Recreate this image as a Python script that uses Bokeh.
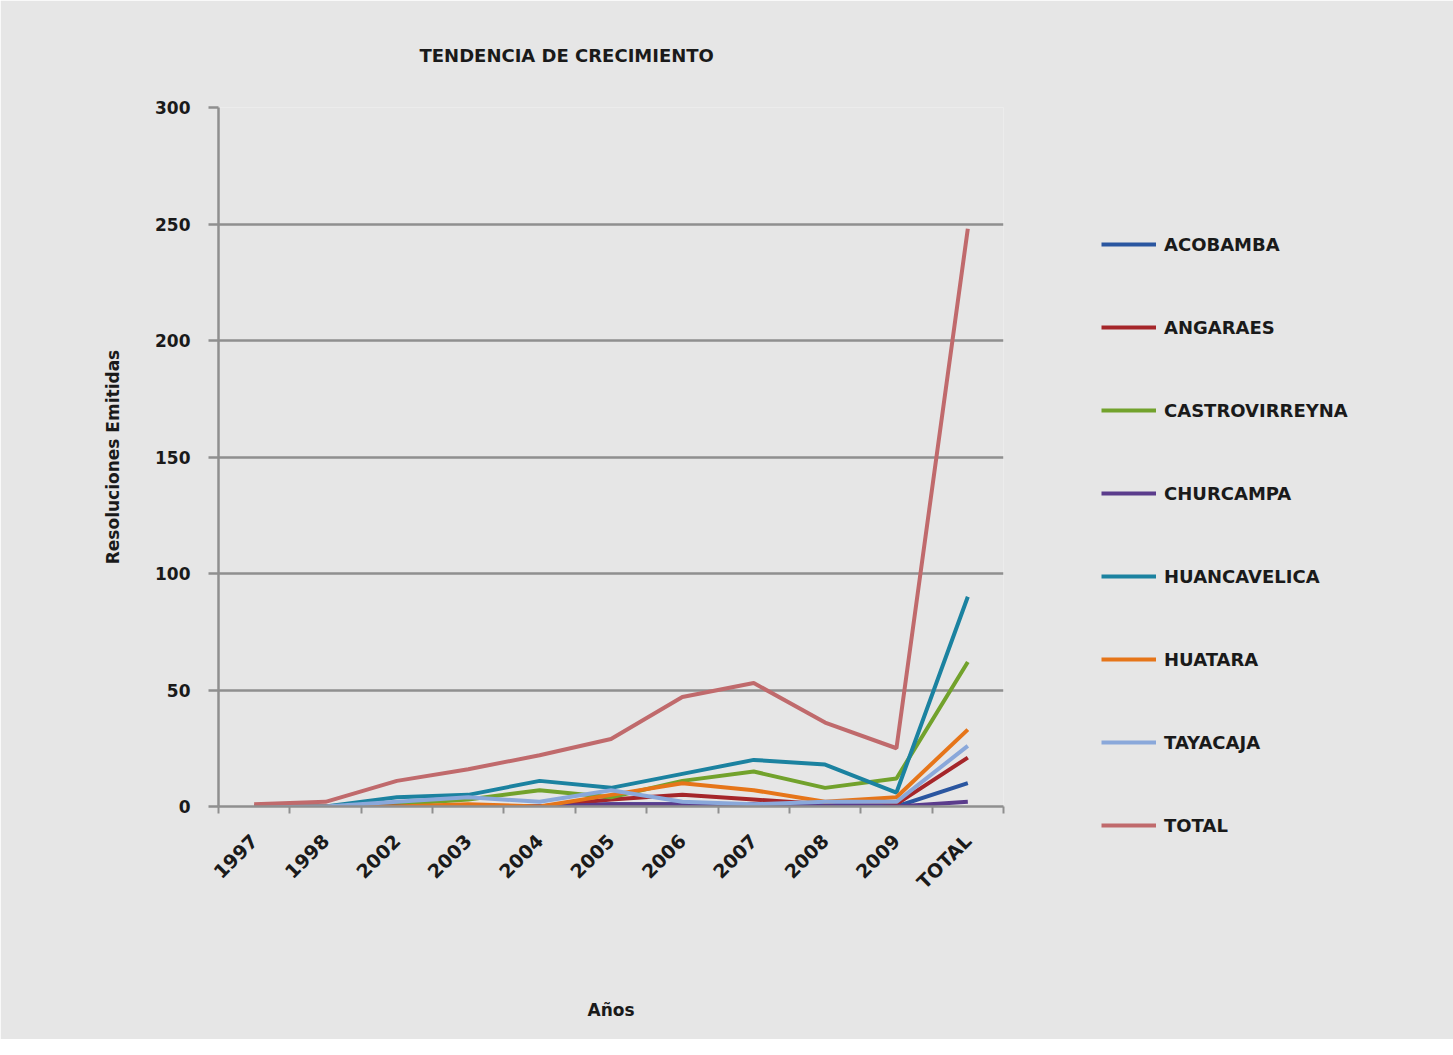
from bokeh.plotting import figure
from bokeh.models import Range1d, FixedTicker, Legend, LegendItem
from bokeh.embed import file_html
from bokeh.resources import INLINE
from math import pi

categories = ["1997", "1998", "2002", "2003", "2004", "2005", "2006", "2007", "2008", "2009", "TOTAL"]

acobamba = [0, 0, 0, 0, 0, 1, 1, 1, 1, 0, 10]
angaraes = [0, 0, 0, 0, 0, 3, 5, 3, 1, 1, 21]
castrovirreyna = [0, 0, 1, 3, 7, 4, 11, 15, 8, 12, 62]
churcampa = [0, 0, 0, 0, 0, 1, 1, 1, 1, 0, 2]
huancavelica = [0, 0, 4, 5, 11, 8, 14, 20, 18, 6, 90]
huatara = [0, 0, 0, 1, 0, 5, 10, 7, 2, 4, 33]
tayacaja = [0, 0, 2, 4, 2, 7, 2, 1, 2, 2, 26]
total = [1, 2, 11, 16, 22, 29, 47, 53, 36, 25, 248]

series_names = ["ACOBAMBA", "ANGARAES", "CASTROVIRREYNA", "CHURCAMPA",
                "HUANCAVELICA", "HUATARA", "TAYACAJA", "TOTAL"]
series_values = [acobamba, angaraes, castrovirreyna, churcampa,
                 huancavelica, huatara, tayacaja, total]
series_colors = ["#2a56a0", "#a5262a", "#72a22c", "#5b3c8c",
                 "#1b82a0", "#e67519", "#8aa8da", "#c06a6c"]

y_ticks = [0, 50, 100, 150, 200, 250, 300]

BG = "#e6e6e6"
GRID = "#8f8f8f"
FONT = "DejaVu Sans"

p = figure(frame_width=785, frame_height=699, output_backend="svg", toolbar_location=None,
           x_range=Range1d(0, len(categories)), y_range=Range1d(0, 300),
           min_border_left=218, min_border_right=0, min_border_top=107, min_border_bottom=233)

p.background_fill_color = BG
p.border_fill_color = BG
p.outline_line_color = None

p.title.text = "TENDENCIA DE CRECIMIENTO"
p.title.align = "left"
p.title.offset = 201
p.title.standoff = 84
p.title.text_font = FONT
p.title.text_font_style = "bold"
p.title.text_font_size = "18px"
p.title.text_color = "#1a1a1a"

xs = [i + 0.5 for i in range(len(categories))]

items = []
for name, vals, col in zip(series_names, series_values, series_colors):
    r = p.line(xs, vals, line_color=col, line_width=4)
    items.append(LegendItem(label=name, renderers=[r]))

# x axis: categories centred between tick marks
xaxis = p.below[0]
xaxis.ticker = FixedTicker(ticks=xs, minor_ticks=list(range(len(categories) + 1)))
xaxis.major_label_overrides = {x: c for x, c in zip(xs, categories)}
xaxis.major_tick_line_color = None
xaxis.minor_tick_line_color = GRID
xaxis.minor_tick_line_width = 2
xaxis.minor_tick_out = 7
xaxis.minor_tick_in = 0
xaxis.major_label_orientation = pi / 4
xaxis.major_label_standoff = 24
xaxis.axis_label = "Años"
xaxis.axis_label_standoff = 96
p.xgrid.visible = False

# y axis
yaxis = p.left[0]
yaxis.ticker = FixedTicker(ticks=y_ticks)
yaxis.major_tick_line_color = GRID
yaxis.major_tick_line_width = 2.5
yaxis.major_tick_out = 10
yaxis.major_tick_in = 0
yaxis.minor_tick_line_color = None
yaxis.major_label_standoff = 18
yaxis.axis_label = "Resoluciones Emitidas"
yaxis.axis_label_standoff = 29
p.ygrid.grid_line_color = GRID
p.ygrid.grid_line_width = 2.5

for ax in (xaxis, yaxis):
    ax.axis_line_color = GRID
    ax.axis_line_width = 2.5
    ax.major_label_text_font = FONT
    ax.major_label_text_font_style = "bold"
    ax.major_label_text_font_size = "17px"
    ax.major_label_text_color = "#1a1a1a"
    ax.axis_label_text_font = FONT
    ax.axis_label_text_font_style = "bold"
    ax.axis_label_text_font_size = "17px"
    ax.axis_label_text_color = "#1a1a1a"
xaxis.major_label_text_font_size = "19px"

legend = Legend(items=items, location="top_left", orientation="vertical",
                glyph_width=55, glyph_height=78, label_height=78, spacing=5,
                padding=0, margin=98, label_standoff=8,
                border_line_color=None, background_fill_alpha=0)
legend.label_text_font = FONT
legend.label_text_font_style = "bold"
legend.label_text_font_size = "18px"
legend.label_text_color = "#1a1a1a"
legend.label_text_baseline = "middle"
p.add_layout(legend, "right")

open("out.html", "w").write(file_html(p, INLINE))
